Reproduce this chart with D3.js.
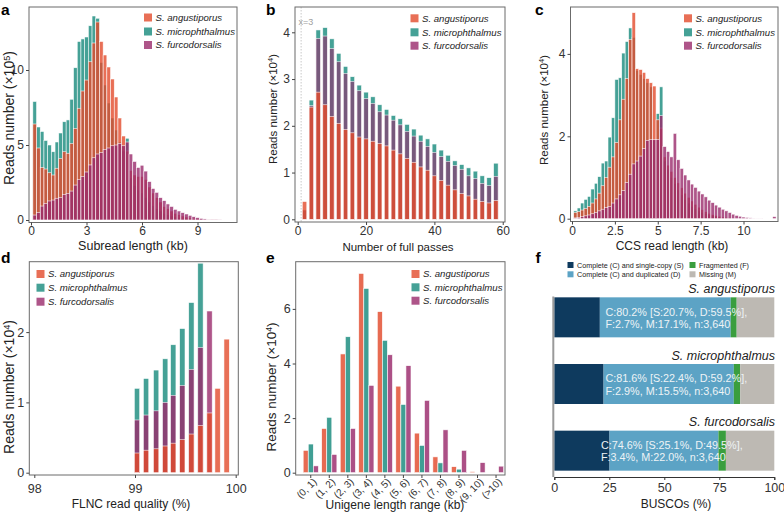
<!DOCTYPE html>
<html><head><meta charset="utf-8">
<script src="https://cdn.jsdelivr.net/npm/d3@7"></script>
<style>
body{margin:0;background:#fff;}
svg{display:block;font-family:"Liberation Sans",Arial,Helvetica,sans-serif;}
</style></head><body>
<svg id="chart" width="784" height="512"></svg>
<script>
// ---------------- DATA ----------------
const speciesNames = ["S. angustiporus","S. microphthalmus","S. furcodorsalis"];

// a: subread length histogram (kb, x10^5)
const aBins = [0.2,0.4,0.6,0.8,1.0,1.2,1.4,1.6,1.8,2.0,2.2,2.4,2.6,2.8,3.0,3.2,3.4,3.6,3.8,4.0,4.2,4.4,4.6,4.8,5.0,5.2,5.4,5.6,5.8,6.0,6.2,6.4,6.6,6.8,7.0,7.2,7.4,7.6,7.8,8.0,8.2,8.4,8.6,8.8,9.0,9.2,9.4,9.6,9.8,10.0,10.2];
const aAng = [6.4,4.8,3.5,3.4,3.15,3.0,3.45,4.1,4.55,4.45,5.1,6.1,7.45,8.6,9.33,10.55,11.8,13.2,11.9,11.0,10.2,9.4,8.2,6.8,5.6,4.6,3.3,3.0,2.9,2.9,2.7,2.2,1.8,1.5,1.2,0.9,0.75,0.6,0.45,0.35,0.27,0.2,0.14,0.1,0.07,0.05,0.03,0.02,0.01,0.01,0];
const aMic = [7.9,6.2,5.9,5.3,5.0,4.55,5.2,5.8,6.55,6.67,8.05,10.15,11.9,12.07,12.2,12.95,13.6,13.45,10.5,9.0,7.8,6.8,6.0,5.2,4.6,5.45,2.8,2.3,2.0,1.8,1.5,1.2,0.95,0.75,0.6,0.45,0.35,0.28,0.2,0.15,0.1,0.07,0.05,0.03,0.02,0.01,0.01,0,0,0,0];
const aFur = [0.33,0.5,0.93,1.1,1.27,1.33,1.45,1.5,1.7,1.78,1.93,2.33,2.7,2.9,3.2,3.67,4.15,4.4,4.5,4.7,4.8,4.95,5.0,5.1,4.95,5.2,4.4,3.9,3.5,3.65,3.26,2.56,2.1,1.84,1.49,1.29,1.07,0.9,0.71,0.6,0.49,0.4,0.31,0.22,0.16,0.11,0.07,0.04,0.02,0.02,0.01];

// b: number of full passes (x10^4)
const bPasses = [2,4,6,8,10,12,14,16,18,20,22,24,26,28,30,32,34,36,38,40,42,44,46,48,50,52,54,56,58];
const bAng = [0.38,2.4,2.72,2.45,2.2,2.05,1.92,1.85,1.76,1.72,1.67,1.62,1.57,1.48,1.4,1.3,1.22,1.12,1.05,0.93,0.83,0.73,0.63,0.55,0.5,0.43,0.38,0.35,0.4];
const bFur = [0.2,2.43,3.87,3.92,3.65,3.37,3.12,2.95,2.75,2.58,2.48,2.3,2.23,2.12,2.02,1.88,1.78,1.67,1.56,1.43,1.34,1.24,1.15,1.07,0.93,0.87,0.77,0.72,0.92];
const bMic = [0.2,2.55,4.05,4.1,3.86,3.55,3.27,3.05,2.87,2.72,2.62,2.45,2.35,2.22,2.15,2.03,1.93,1.8,1.72,1.61,1.48,1.37,1.25,1.17,1.1,1.03,0.93,0.89,1.2];
const bLineValue = 1;
const bLineLabel = "x=3";

// c: CCS read length (kb, x10^4)
const cBins = [0.2,0.4,0.6,0.8,1.0,1.2,1.4,1.6,1.8,2.0,2.2,2.4,2.6,2.8,3.0,3.2,3.4,3.6,3.8,4.0,4.2,4.4,4.6,4.8,5.0,5.2,5.4,5.6,5.8,6.0,6.2,6.4,6.6,6.8,7.0,7.2,7.4,7.6,7.8,8.0,8.2,8.4,8.6,8.8,9.0,9.2,9.4,9.6,9.8,10.0,10.2,10.4,10.6,10.8,11.0,11.2,11.4,11.6,11.8];
const cAng = [0.15,0.17,0.21,0.25,0.3,0.38,0.48,0.62,0.8,1.0,1.25,1.5,1.85,2.4,2.9,3.4,4.35,5.0,3.64,3.62,3.55,3.4,3.3,3.22,2.4,2.2,1.5,1.3,1.15,1.0,0.87,0.75,0.62,0.52,0.43,0.35,0.28,0.22,0.17,0.13,0.1,0.08,0.06,0.04,0.03,0.02,0.01,0,0,0,0,0,0,0,0,0,0,0,0];
const cMic = [0.19,0.26,0.38,0.47,0.54,0.72,0.86,1.02,1.35,1.4,1.98,2.45,3.38,3.42,4.02,4.3,4.63,4.4,3.6,3.5,3.4,3.3,3.2,1.9,2.55,3.2,1.4,1.2,1.0,0.85,0.7,0.58,0.47,0.38,0.3,0.24,0.19,0.15,0.12,0.09,0.07,0.05,0.04,0.03,0.02,0.01,0,0,0,0,0,0,0,0,0,0,0,0,0];
const cFur = [0.02,0.03,0.05,0.07,0.09,0.12,0.15,0.19,0.23,0.27,0.3,0.38,0.48,0.58,0.68,0.88,1.08,1.33,1.4,1.52,1.7,1.9,1.92,1.92,1.92,2.5,1.75,1.63,1.5,2.07,1.43,1.22,1.06,0.94,0.84,0.76,0.67,0.6,0.53,0.45,0.39,0.33,0.28,0.23,0.19,0.15,0.11,0.08,0.06,0.04,0.03,0.02,0.015,0.01,0.01,0,0,0,0.05];

// d: FLNC read quality (%, x10^4)
const dQual = [99.02,99.11,99.21,99.30,99.38,99.47,99.56,99.65,99.74,99.82,99.91];
const dAng = [0.28,0.32,0.34,0.38,0.42,0.47,0.55,0.67,0.85,1.2,1.9];
const dFur = [0.75,0.82,0.88,1.0,1.1,1.24,1.47,1.78,2.3,0,0];
const dMic = [1.2,1.34,1.46,1.62,1.82,2.05,2.42,2.98,0,0,0];

// e: unigene length range (x10^4)
const eCats = ["(0, 1)","(1, 2)","(2, 3)","(3, 4)","(4, 5)","(5, 6)","(6, 7)","(7, 8)","(8, 9)","(9, 10)","(>10)"];
const eAng = [0.82,1.62,4.35,7.3,5.9,3.17,1.45,0.58,0.22,0.04,0];
const eMic = [1.05,2.03,4.98,6.75,4.85,2.5,1.0,0.36,0.13,0,0];
const eFur = [0.25,0.67,1.62,3.2,4.32,3.92,2.65,1.57,0.82,0.37,0.24];

// f: BUSCO (%)
const fCats = ["Complete (C) and single-copy (S)","Complete (C) and duplicated (D)","Fragmented (F)","Missing (M)"];
const fS = [20.7,22.4,25.1];
const fD = [59.5,59.2,49.5];
const fF = [2.7,2.9,3.4];
const fM = [17.1,15.5,22.0];
const fLine1 = ["C:80.2% [S:20.7%, D:59.5%],","C:81.6% [S:22.4%, D:59.2%],","C:74.6% [S:25.1%, D:49.5%],"];
const fLine2 = ["F:2.7%, M:17.1%, n:3,640","F:2.9%, M:15.5%, n:3,640","F:3.4%, M:22.0%, n:3,640"];

// ---------------- STYLE ----------------
const COL = {ang:"#E24B2C", mic:"#168A7C", fur:"#9A2A6B"};
const ALPHA = 0.8;
const fColors = ["#0E3A5E","#5CA3C5","#3A9E3E","#BDB9B3"];
const svg = d3.select("#chart");

function frame(x0,y0,x1,y1){
  svg.append("rect").attr("x",x0).attr("y",y0).attr("width",x1-x0).attr("height",y1-y0)
    .attr("fill","none").attr("stroke","#6b6b6b").attr("stroke-width",1);
}
function styleAxis(g, fs){
  g.select(".domain").remove();
  g.attr("font-family",null).attr("font-size",null);
  g.selectAll(".tick line").attr("stroke","#444");
  g.selectAll(".tick text").attr("fill","#333").attr("font-size",fs);
}
function bottomAxis(xs, y, ticks, fs, pad, fmt){
  const g = svg.append("g").attr("transform",`translate(0,${y})`)
    .call(d3.axisBottom(xs).tickValues(ticks).tickSize(3).tickPadding(pad).tickFormat(fmt||(d=>d)));
  styleAxis(g, fs);
  return g;
}
function leftAxis(ys, x, ticks, fs){
  const g = svg.append("g").attr("transform",`translate(${x},0)`)
    .call(d3.axisLeft(ys).tickValues(ticks).tickSize(3).tickPadding(2).tickFormat(d=>d));
  styleAxis(g, fs);
  return g;
}
function yTitle(cx, cy, fs, exp){
  const t = svg.append("text").attr("transform",`translate(${cx},${cy}) rotate(-90)`)
    .attr("text-anchor","middle").attr("dy","0.35em").attr("font-size",fs).attr("fill","#222");
  t.append("tspan").text("Reads number (\u00d710");
  t.append("tspan").attr("font-size",fs*0.65).attr("dy",-fs*0.35).text(exp);
  t.append("tspan").attr("dy",fs*0.35).text(")");
}
function xTitle(cx, cy, fs, txt){
  svg.append("text").attr("x",cx).attr("y",cy).attr("dy","0.35em").attr("text-anchor","middle")
    .attr("font-size",fs).attr("fill","#222").text(txt);
}
function panelLetter(x,y,l){
  svg.append("text").attr("x",x).attr("y",y).attr("font-size",15.5).attr("font-weight","bold").attr("fill","#000").text(l);
}
function legend(x, ys, colors, fs){
  speciesNames.forEach((n,i)=>{
    svg.append("rect").attr("x",x).attr("y",ys[i]-4).attr("width",8).attr("height",8)
      .attr("fill",colors[i]).attr("fill-opacity",ALPHA);
    svg.append("text").attr("x",x+11.5).attr("y",ys[i]).attr("dy","0.35em").attr("font-size",fs)
      .attr("font-style","italic").attr("fill","#222").text(n);
  });
}
function histBars(xs, ys, bins, bw, series){
  series.forEach(s=>{
    const data = bins.map((c,i)=>({c, v:s.vals[i]})).filter(d=>d.v>0);
    svg.append("g").selectAll("rect").data(data).join("rect")
      .attr("x",d=>xs(d.c-bw/2)).attr("width",xs(bw)-xs(0))
      .attr("y",d=>ys(d.v)).attr("height",d=>ys(0)-ys(d.v))
      .attr("fill",s.color).attr("fill-opacity",s.alpha||ALPHA)
      .attr("stroke","#fff").attr("stroke-width",0.6).attr("stroke-opacity",0.9);
  });
}

// ---------------- PANEL a ----------------
{
  const x0=29,x1=237,y0=7,y1=222.5;
  const xs = d3.scaleLinear().domain([(x0-31)/18.5,(x1-31)/18.5]).range([x0,x1]);
  const ys = d3.scaleLinear().domain([(220-y1)/15,(220-y0)/15]).range([y1,y0]);
  histBars(xs, ys, aBins, 0.2, [
    {vals:aMic,color:COL.mic},{vals:aAng,color:COL.ang},{vals:aFur,color:COL.fur}]);
  frame(x0,y0,x1,y1);
  bottomAxis(xs, y1, [0,3,6,9], 12, 1);
  leftAxis(ys, x0, [0,5,10], 12);
  yTitle(9.5, 118, 14, "5");
  xTitle(133, 246, 12.5, "Subread length (kb)");
  legend(144, [17.5,31.5,45], [COL.ang,COL.mic,COL.fur], 9.6);
  panelLetter(1,14.5,"a");
}
// ---------------- PANEL b ----------------
{
  const x0=295,x1=505,y0=7,y1=222;
  const xs = d3.scaleLinear().domain([(x0-297.7)/3.417,(x1-297.7)/3.417]).range([x0,x1]);
  const ys = d3.scaleLinear().domain([(219.3-y1)/46.75,(219.3-y0)/46.75]).range([y1,y0]);
  svg.append("line").attr("x1",xs(bLineValue)).attr("x2",xs(bLineValue)).attr("y1",y0).attr("y2",y1)
    .attr("stroke","#c8c8c8").attr("stroke-width",1).attr("stroke-dasharray","1.5,1.5");
  svg.append("text").attr("x",xs(bLineValue)-2.5).attr("y",25).attr("font-size",9).attr("fill","#a0a0a0").text(bLineLabel);
  histBars(xs, ys, bPasses, 1.32, [
    {vals:bMic,color:COL.mic},{vals:bFur,color:COL.fur,alpha:0.6},{vals:bAng,color:COL.ang}]);
  frame(x0,y0,x1,y1);
  bottomAxis(xs, y1, [0,20,40,60], 12, 1.5);
  leftAxis(ys, x0, [0,1,2,3,4], 12);
  yTitle(273.3, 109, 11.5, "4");
  xTitle(398, 246.5, 11.5, "Number of full passes");
  legend(410.5, [18.3,32.3,45.7], [COL.ang,COL.mic,COL.fur], 9.6);
  panelLetter(266,14.5,"b");
}
// ---------------- PANEL c ----------------
{
  const x0=570.5,x1=778,y0=7,y1=221.5;
  const xs = d3.scaleLinear().domain([(x0-572)/17.15,(x1-572)/17.15]).range([x0,x1]);
  const ys = d3.scaleLinear().domain([(218.7-y1)/41.2,(218.7-y0)/41.2]).range([y1,y0]);
  histBars(xs, ys, cBins, 0.2, [
    {vals:cMic,color:COL.mic},{vals:cAng,color:COL.ang},{vals:cFur,color:COL.fur}]);
  frame(x0,y0,x1,y1);
  bottomAxis(xs, y1, [0,2.5,5,7.5,10], 12, 1.5);
  leftAxis(ys, x0, [0,2,4], 12);
  yTitle(544, 110, 11.5, "4");
  xTitle(672, 246, 12, "CCS read length (kb)");
  legend(684, [18.3,32.3,45.7], [COL.ang,COL.mic,COL.fur], 9.6);
  panelLetter(535,14.5,"c");
}
// ---------------- PANEL d ----------------
{
  const x0=29.3,x1=238.3,y0=261.7,y1=475;
  const xs = d3.scaleLinear().domain([98+(x0-34.3)/100.7, 98+(x1-34.3)/100.7]).range([x0,x1]);
  const ys = d3.scaleLinear().domain([(472.7-y1)/70.3,(472.7-y0)/70.3]).range([y1,y0]);
  histBars(xs, ys, dQual, 0.053, [
    {vals:dMic,color:COL.mic},{vals:dFur,color:COL.fur},{vals:dAng,color:COL.ang}]);
  frame(x0,y0,x1,y1);
  bottomAxis(xs, y1, [98,99,100], 12.5, 6);
  leftAxis(ys, x0, [0,1,2], 12.5);
  yTitle(9.5, 387, 14, "4");
  xTitle(131, 504, 12, "FLNC read quality (%)");
  legend(36.5, [274,287.7,301.7], [COL.ang,COL.mic,COL.fur], 9.6);
  panelLetter(1,263,"d");
}
// ---------------- PANEL e ----------------
{
  const x0=295.7,x1=505,y0=261.7,y1=475;
  const xb = d3.scaleBand().domain(eCats).range([301.5,505.3]).padding(0);
  const step = xb.step();
  const xi = d3.scaleBand().domain([0,1,2]).range([0.09*step,0.91*step]).padding(0);
  const ys = d3.scaleLinear().domain([(472.7-y1)/27.3,(472.7-y0)/27.3]).range([y1,y0]);
  const ser = [{vals:eAng,color:COL.ang},{vals:eMic,color:COL.mic},{vals:eFur,color:COL.fur}];
  ser.forEach((s,si)=>{
    const data = eCats.map((c,i)=>({c,v:s.vals[i]})).filter(d=>d.v>0);
    svg.append("g").selectAll("rect").data(data).join("rect")
      .attr("x",d=>xb(d.c)+xi(si)).attr("width",xi.bandwidth())
      .attr("y",d=>ys(d.v)).attr("height",d=>ys(0)-ys(d.v))
      .attr("fill",s.color).attr("fill-opacity",0.82)
      .attr("stroke","#fff").attr("stroke-width",0.6);
  });
  frame(x0,y0,x1,y1);
  const g = svg.append("g").attr("transform",`translate(0,${y1})`)
    .call(d3.axisBottom(xb).tickSize(3).tickFormat(""));
  styleAxis(g, 10);
  g.selectAll(".tick").each(function(d){
    d3.select(this).append("text").attr("transform","translate(4,5) rotate(-45)")
      .attr("text-anchor","end").attr("dy","0.35em").attr("font-size",10).attr("fill","#333").text(d);
  });
  leftAxis(ys, x0, [0,2,4,6], 12.5);
  yTitle(271.7, 387, 13.5, "4");
  xTitle(395, 504.5, 12, "Unigene length range (kb)");
  legend(411.5, [274,287.3,300.7], [COL.ang,COL.mic,COL.fur], 9.6);
  panelLetter(266,263,"e");
}
// ---------------- PANEL f ----------------
{
  const xs = d3.scaleLinear().domain([0,100]).range([554.3,774.3]);
  const yb = d3.scaleBand().domain(speciesNames).range([284,484]).paddingInner(0.4).paddingOuter(0.2);
  speciesNames.forEach((n,i)=>{
    const vals=[fS[i],fD[i],fF[i],fM[i]];
    let acc=0;
    vals.forEach((v,k)=>{
      svg.append("rect").attr("x",xs(acc)).attr("width",xs(acc+v)-xs(acc))
        .attr("y",yb(n)).attr("height",yb.bandwidth()).attr("fill",fColors[k]);
      acc+=v;
    });
    const cy = yb(n)+yb.bandwidth()/2;
    svg.append("text").attr("x",i===2?601:605.5).attr("y",cy-5.5).attr("dy","0.35em")
      .attr("font-size",10.8).attr("fill","#eef3f6").text(fLine1[i]);
    svg.append("text").attr("x",i===2?601:605.5).attr("y",cy+7).attr("dy","0.35em")
      .attr("font-size",10.8).attr("fill","#eef3f6").text(fLine2[i]);
    svg.append("text").attr("x",775).attr("y",yb(n)-4.5).attr("text-anchor","end")
      .attr("font-size",12.5).attr("font-style","italic").attr("fill","#222").text(n);
  });
  svg.append("line").attr("x1",553.3).attr("x2",553.3).attr("y1",296.5).attr("y2",477)
    .attr("stroke","#9a9a9a").attr("stroke-width",2);
  const g = svg.append("g").attr("transform","translate(0,477)")
    .call(d3.axisBottom(xs).tickValues([0,25,50,75,100]).tickSize(3).tickPadding(3));
  g.select(".domain").attr("stroke","#333");
  g.attr("font-family",null).attr("font-size",null);
  g.selectAll(".tick line").attr("stroke","#333");
  g.selectAll(".tick text").attr("fill","#333").attr("font-size",12.5);
  xTitle(676, 504, 12, "BUSCOs (%)");
  // legend
  const lx=[567.5,689.5], ly=[265,274.3];
  fCats.forEach((c,k)=>{
    const cx = lx[k<2?0:1], cy = ly[k%2];
    svg.append("rect").attr("x",cx).attr("y",cy-3).attr("width",6).attr("height",6).attr("fill",fColors[k]);
    svg.append("text").attr("x",cx+9.5).attr("y",cy).attr("dy","0.35em").attr("font-size",7.2).attr("fill","#222").text(c);
  });
  panelLetter(535.5,263,"f");
}
</script>
</body></html>
